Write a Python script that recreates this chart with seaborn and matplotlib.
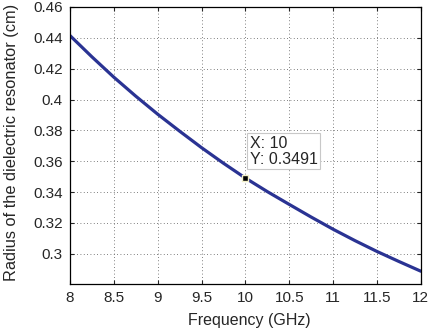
import numpy as np
import pandas as pd
import matplotlib
matplotlib.use("Agg")
import matplotlib.pyplot as plt
import seaborn as sns

# values
freq_ghz = [8.0, 8.25, 8.5, 8.75, 9.0, 9.25, 9.5, 9.75, 10.0,
            10.25, 10.5, 10.75, 11.0, 11.25, 11.5, 11.75, 12.0]
radius_cm = [0.4415, 0.4277, 0.4145, 0.4022, 0.3905, 0.3795, 0.3688, 0.3587, 0.3491,
             0.3403, 0.3320, 0.3238, 0.3159, 0.3085, 0.3015, 0.2950, 0.2887]
tip_x, tip_y = 10, 0.3491
x_ticks = [8, 8.5, 9, 9.5, 10, 10.5, 11, 11.5, 12]
y_ticks = [0.3, 0.32, 0.34, 0.36, 0.38, 0.4, 0.42, 0.44, 0.46]

df = pd.DataFrame({"freq": freq_ghz, "radius": radius_cm})

sns.set_style("ticks")
plt.rcParams['font.family'] = ['Liberation Sans', 'DejaVu Sans']

fig = plt.figure(figsize=(4.29, 3.32), dpi=100)
ax = fig.add_axes([0.163, 0.145, 0.818, 0.834])

sns.lineplot(data=df, x="freq", y="radius", ax=ax, color="#2a3393", linewidth=2.3)

# data tip
ax.plot([tip_x], [tip_y], marker="s", markersize=5, color="black",
        markeredgecolor="#f3f0c8", markeredgewidth=1)
ax.annotate("X: %g\nY: %.4f" % (tip_x, tip_y), xy=(tip_x, tip_y),
            xytext=(3, 8), textcoords="offset points", fontsize=11.5,
            linespacing=1.1, va="bottom", ha="left",
            bbox=dict(boxstyle="square,pad=0.15", fc="white", ec="#c8c8c8", lw=0.8))

ax.set_xlim(8, 12)
ax.set_ylim(0.2805, 0.46)
ax.set_xticks(x_ticks)
ax.set_xticklabels([("%g" % t) for t in x_ticks])
ax.set_yticks(y_ticks)
ax.set_yticklabels([("%g" % t) for t in y_ticks])
ax.grid(True, linestyle=(0, (1, 3)), color="#555555", linewidth=0.6)
ax.tick_params(direction="in", length=3, labelsize=11, top=True, right=True, pad=5)
for s in ax.spines.values():
    s.set_linewidth(0.9)
    s.set_color("black")

ax.set_xlabel("Frequency (GHz)", fontsize=11.5)
ax.set_ylabel("Radius of the dielectric resonator (cm)", fontsize=11.8)
ax.xaxis.set_label_coords(0.51, -0.105)
ax.yaxis.set_label_coords(-0.145, 0.51)

fig.savefig("out.png", dpi=100)
